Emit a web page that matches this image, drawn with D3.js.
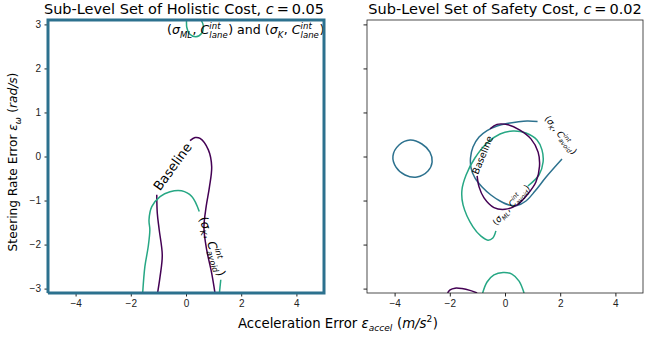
<!DOCTYPE html>
<html>
<head>
<meta charset="utf-8">
<script src="https://cdnjs.cloudflare.com/ajax/libs/d3/7.8.5/d3.min.js"></script>
<style>
body { margin: 0; background: #fff; }
svg { font-family: "DejaVu Sans", sans-serif; }
.tick text { font-size: 10px; fill: #222; }
.tick line, .domain { stroke: #222; }
</style>
</head>
<body>
<svg id="chart" width="646" height="337"></svg>
<script>
var xTicks = [-4, -2, 0, 2, 4];
var yTicks = [-3, -2, -1, 0, 1, 2, 3];
var xDomain = [-5, 5], yDomain = [-3.1, 3.1];

// holistic cost (left)
var holBaselineA = [[-1.03,-3.1],[-0.94,-2.73],[-0.86,-2.24],[-0.97,-1.67],[-1.04,-1.29],[-1.06,-0.87]];
var holBaselineB = [[0.145,0.36],[0.33,0.43],[0.51,0.41],[0.81,0.15],[0.93,-0.23],[0.85,-0.69],[0.73,-1.14],[0.65,-1.62],[0.75,-2.12],[0.93,-2.65],[1.05,-3.1]];
var holMLA = [[-1.57,-3.1],[-1.49,-2.50],[-1.37,-2.05],[-1.31,-1.67],[-1.34,-1.44],[-1.24,-1.14],[-0.94,-0.91],[-0.58,-0.80],[-0.16,-0.78],[0.21,-0.91],[0.48,-1.25]];
var holMLB = [[1.26,-2.80],[1.21,-3.1]];
var holMLTop = [[0.02,3.1],[0.03,2.93],[0.12,2.79],[0.36,2.72],[0.57,2.8],[0.63,2.96],[0.55,3.1]];
var holLaneEdge = [[-5,-3.1],[5,-3.1],[5,3.1],[-5,3.1],[-5,-3.1]];

// safety cost (right)
var safBaselineA = [[-0.54,0.63],[-0.29,0.73],[0.11,0.72],[0.54,0.60],[0.94,0.40],[1.20,0.10],[1.25,-0.22],[1.12,-0.58],[0.83,-0.85],[0.44,-1.10],[0,-1.20],[-0.40,-1.16],[-0.76,-0.94],[-0.94,-0.69],[-1.01,-0.44]];
var safBaselineB = [[-2.08,-3.1],[-1.99,-3.03],[-1.81,-2.99],[-1.56,-3.0],[-1.27,-3.04],[-1.01,-3.1]];
var safKBlob = [[-3.44,0.375],[-3.01,0.284],[-2.72,0.10],[-2.64,-0.125],[-2.79,-0.33],[-3.19,-0.466],[-3.62,-0.42],[-3.95,-0.24],[-4.06,0.01],[-3.84,0.26]];
var safKLoop = [[1.18,0.795],[0.80,0.806],[0.435,0.784],[0.07,0.75],[-0.29,0.693],[-0.65,0.59],[-0.94,0.443],[-1.16,0.216],[-1.25,-0.034],[-1.23,-0.261],[-1.09,-0.488],[-0.83,-0.693],[-0.51,-0.874],[-0.18,-1.01],[0.145,-1.10],[0.435,-1.113],[0.76,-1.01],[1.09,-0.784],[1.49,-0.466],[2.065,-0.057]];
var safMLLoop = [[0.83,-0.67],[1.23,-0.42],[1.38,-0.125],[1.34,0.15],[1.16,0.375],[0.76,0.534],[0.29,0.579],[-0.18,0.511],[-0.65,0.307],[-1.09,-0.034],[-1.41,-0.42],[-1.56,-0.76],[-1.52,-1.10],[-1.16,-1.60],[-0.87,-1.81],[-0.62,-1.90],[-0.44,-1.85],[-0.33,-1.69]];
var safMLB = [[-0.81,-3.1],[-0.65,-2.85],[-0.40,-2.69],[-0.07,-2.635],[0.25,-2.67],[0.51,-2.83],[0.69,-3.1]];

var purple = "#440154", blue = "#2c718e", green = "#26a784";

var svg = d3.select("#chart");
var top_ = 20, bottom = 293;

function mathLabel(parent, parts, size, cx, cy, angle, anchor){
  var lab = parent.append("g")
    .attr("transform", "translate(" + cx + "," + cy + ") rotate(" + angle + ")");
  var inner = lab.append("g");
  var cur = 0;
  parts.forEach(function(p){
    if(p.sup !== undefined || p.sub !== undefined){
      var w = 0;
      if(p.sup){
        var t = inner.append("text").attr("x", cur).attr("y", -0.45*size)
          .style("font-size", (0.68*size) + "px").style("font-style", p.up ? "normal" : "italic").text(p.sup);
        w = Math.max(w, t.node().getComputedTextLength());
      }
      if(p.sub){
        var t2 = inner.append("text").attr("x", cur).attr("y", 0.27*size)
          .style("font-size", (0.68*size) + "px").style("font-style", "italic").text(p.sub);
        w = Math.max(w, t2.node().getComputedTextLength());
      }
      cur += w + 0.04*size;
    } else {
      var t3 = inner.append("text").attr("x", cur).attr("y", 0)
        .style("font-size", size + "px").style("font-style", p.i ? "italic" : "normal").text(p.t);
      cur += t3.node().getComputedTextLength();
    }
  });
  var shift = anchor == "start" ? 0 : (anchor == "end" ? -cur : -cur/2);
  inner.attr("transform", "translate(" + shift + "," + (0.35*size) + ")");
  return cur;
}

var kAvoid = [{t:"("},{t:"σ",i:1},{sub:"K"},{t:",\u00a0"},{t:"C",i:1},{sup:"int",sub:"avoid"},{t:")"}];
var mlAvoid = [{t:"("},{t:"σ",i:1},{sub:"ML"},{t:",\u00a0"},{t:"C",i:1},{sup:"int",sub:"avoid"},{t:")"}];
var laneBoth = [{t:"("},{t:"σ",i:1},{sub:"ML"},{t:",\u00a0"},{t:"C",i:1},{sup:"int",sub:"lane"},{t:")\u00a0and\u00a0("},
  {t:"σ",i:1},{sub:"K"},{t:",\u00a0"},{t:"C",i:1},{sup:"int",sub:"lane"},{t:")"}];

function makePanel(id, left, right, showY){
  var x = d3.scaleLinear().domain(xDomain).range([left, right]);
  var y = d3.scaleLinear().domain(yDomain).range([bottom, top_]);
  svg.append("clipPath").attr("id", "clip" + id).append("rect")
    .attr("x", left).attr("y", top_).attr("width", right - left).attr("height", bottom - top_);
  var g = svg.append("g");
  var plot = g.append("g").attr("clip-path", "url(#clip" + id + ")");
  var line = d3.line().x(function(d){ return x(d[0]); }).y(function(d){ return y(d[1]); })
    .curve(d3.curveCatmullRom.alpha(0.5));
  var closed = d3.line().x(function(d){ return x(d[0]); }).y(function(d){ return y(d[1]); })
    .curve(d3.curveCatmullRomClosed.alpha(0.5));

  g.append("g").attr("transform", "translate(0," + bottom + ")")
    .call(d3.axisBottom(x).tickValues(xTicks).tickSize(3.5).tickPadding(3.5).tickFormat(d3.format("d")))
    .select(".domain").remove();
  var ya = g.append("g").attr("transform", "translate(" + left + ",0)")
    .call(d3.axisLeft(y).tickValues(yTicks).tickSize(3.5).tickPadding(3.5).tickFormat(showY ? d3.format("d") : ""));
  ya.select(".domain").remove();
  g.selectAll(".tick text").each(function(){
    var s = d3.select(this); s.text(s.text().replace("-", "\u2212"));
  });
  g.append("rect").attr("x", left).attr("y", top_).attr("width", right - left).attr("height", bottom - top_)
    .attr("fill", "none").attr("stroke", "#222").attr("stroke-width", 0.8);
  return {g: g, plot: plot, x: x, y: y, line: line, closed: closed};
}

function draw(P, data, color, isClosed){
  P.plot.append("path").datum(data)
    .attr("d", isClosed ? P.closed : P.line)
    .attr("fill", "none").attr("stroke", color).attr("stroke-width", 1.5);
}

// left panel
var L = makePanel("L", 48, 324, true);
draw(L, holBaselineA, purple);
draw(L, holBaselineB, purple);
draw(L, holMLA, green);
draw(L, holMLB, green);
draw(L, holMLTop, green);
mathLabel(L.g, [{t:"Baseline"}], 13, L.x(-0.49), L.y(-0.23), -54);
mathLabel(L.g, kAvoid, 12, L.x(0.96), L.y(-2.04), 72);
mathLabel(L.g, laneBoth, 12.6, 167, 30, 0, "start");
L.g.append("path").datum(holLaneEdge)
  .attr("d", d3.line().x(function(d){ return L.x(d[0]); }).y(function(d){ return L.y(d[1]); }))
  .attr("fill", "none").attr("stroke", blue).attr("stroke-width", 3);

// right panel
var R = makePanel("R", 367, 643, false);
draw(R, safKBlob, blue, true);
draw(R, safKLoop, blue);
draw(R, safMLLoop, green);
draw(R, safMLB, green);
draw(R, safBaselineA, purple);
draw(R, safBaselineB, purple);
mathLabel(R.g, [{t:"Baseline"}], 9.5, R.x(-0.815), R.y(0.034), -67.7);
mathLabel(R.g, kAvoid, 9, R.x(2.03), R.y(0.49), 52);
mathLabel(R.g, mlAvoid, 9, R.x(0.22), R.y(-1.10), -48);

// titles and axis labels
mathLabel(svg, [{t:"Sub-Level Set of Holistic Cost,\u00a0"},{t:"c",i:1},{t:"\u2009=\u20090.05"}], 14.5, 184, 9, 0);
mathLabel(svg, [{t:"Sub-Level Set of Safety Cost,\u00a0"},{t:"c",i:1},{t:"\u2009=\u20090.02"}], 14.5, 505, 9, 0);
mathLabel(svg, [{t:"Steering Rate Error\u00a0"},{t:"ε",i:1},{sub:"ω"},{t:"\u00a0("},{t:"rad/s",i:1},{t:")"}], 12.2, 13, 162, -90);
mathLabel(svg, [{t:"Acceleration Error\u00a0"},{t:"ε",i:1},{sub:"accel"},{t:"\u00a0("},{t:"m/s",i:1},{sup:"2",up:1},{t:")"}], 13.3, 338, 323, 0);
</script>
</body>
</html>
